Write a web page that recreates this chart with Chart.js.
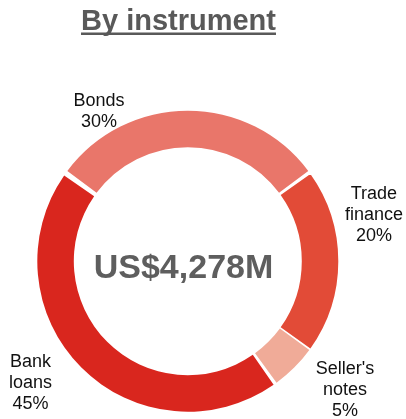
<!DOCTYPE html>
<html>
<head>
<meta charset="utf-8">
<script src="https://cdn.jsdelivr.net/npm/chart.js@4.4.1/dist/chart.umd.min.js"></script>
<style>
  html, body { margin: 0; padding: 0; background: #ffffff; }
  #wrap { width: 406px; height: 419px; position: relative; }
</style>
</head>
<body>
<div id="wrap"><canvas id="chart" width="406" height="419"></canvas></div>
<script>
// Funding mix by instrument (share of total, %)
const categories = ["Bonds", "Trade finance", "Seller's notes", "Bank loans"];
const shares = [30, 20, 5, 45];
const totalLabel = "US$4,278M";
const chartTitle = "By instrument";

// How each category name wraps onto lines
const nameLines = [["Bonds"], ["Trade", "finance"], ["Seller's", "notes"], ["Bank", "loans"]];

const sliceColors = ["#E9766A", "#E24B37", "#F0AB98", "#D9261E"];

// Label block placement: bearing (degrees clockwise from 12 o'clock) and distance as a multiple of the outer radius
const labelBearing = [-30.4, 75.6, 128.9, 232.5];
const labelDistance = [1.181, 1.294, 1.360, 1.335];

const FONT = "'Liberation Sans', Arial, Helvetica, sans-serif";

const overlay = {
  id: 'overlay',
  afterDraw(chart) {
    const ctx = chart.ctx;
    const meta = chart.getDatasetMeta(0);
    const first = meta.data[0];
    const cx = first.x, cy = first.y, R = first.outerRadius;

    ctx.save();
    // Title with underline
    ctx.fillStyle = '#595959';
    ctx.font = 'bold 29px ' + FONT;
    ctx.textAlign = 'center';
    ctx.textBaseline = 'alphabetic';
    const tx = 178.5, ty = 30;
    ctx.fillText(chartTitle, tx, ty);
    const tw = ctx.measureText(chartTitle).width;
    ctx.fillRect(tx - tw / 2, ty + 2.5, tw, 2.5);

    // Total in the hole
    ctx.fillStyle = '#5E5E5E';
    ctx.font = 'bold 34px ' + FONT;
    ctx.fillText(totalLabel, cx - 4.3, cy + 16.5);

    // Category labels
    ctx.fillStyle = '#111111';
    ctx.font = '18px ' + FONT;
    const lh = 21;
    meta.data.forEach((arc, i) => {
      const a = labelBearing[i] * Math.PI / 180;
      const bx = cx + Math.sin(a) * R * labelDistance[i];
      const by = cy - Math.cos(a) * R * labelDistance[i];
      const lines = nameLines[i].concat([shares[i] + '%']);
      const top = by - (lines.length - 1) * lh / 2;
      lines.forEach((s, k) => {
        ctx.fillText(s, bx, top + k * lh + 6.5);
      });
    });
    ctx.restore();
  }
};

new Chart(document.getElementById('chart'), {
  type: 'doughnut',
  data: {
    labels: categories,
    datasets: [{
      data: shares,
      backgroundColor: sliceColors,
      borderWidth: 0,
      spacing: 4
    }]
  },
  options: {
    responsive: false,
    animation: false,
    devicePixelRatio: 1,
    rotation: -54,
    cutout: 112,
    layout: { padding: { left: 37.3, right: 67.7, top: 110.7, bottom: 7.3 } },
    plugins: {
      legend: { display: false },
      tooltip: { enabled: false },
      title: { display: false }
    }
  },
  plugins: [overlay]
});
</script>
</body>
</html>
